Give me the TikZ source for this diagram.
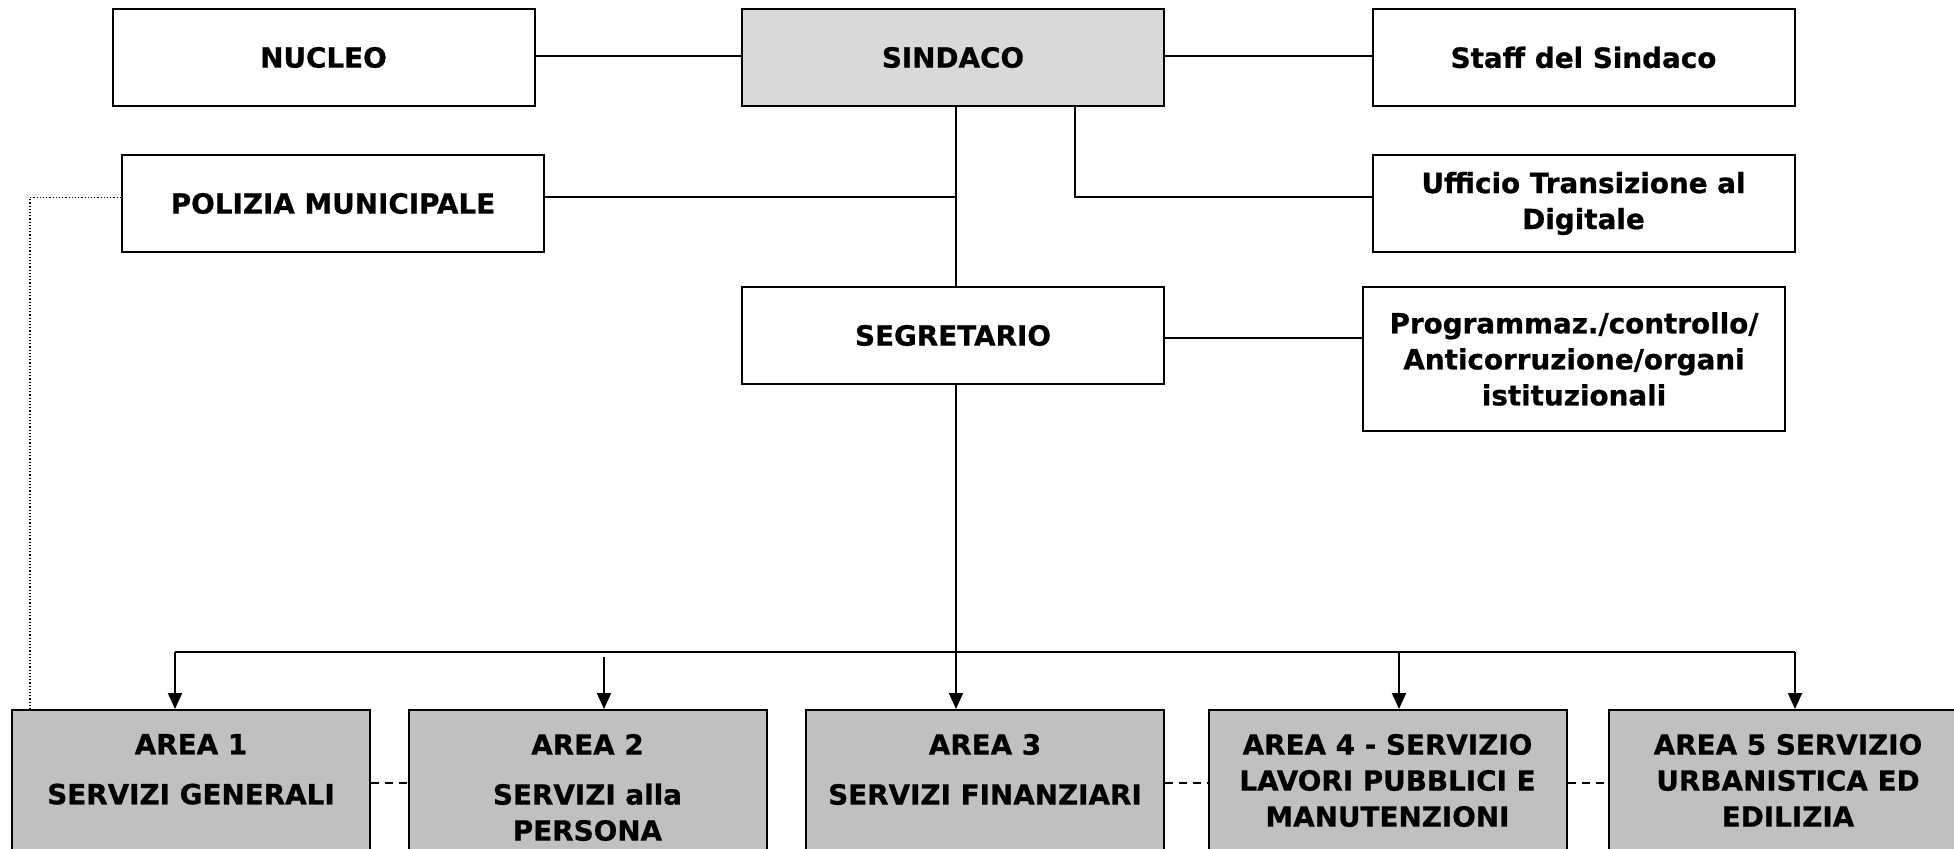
\documentclass[tikz,border=0pt]{standalone}
\usepackage{fontspec}
\setmainfont{DejaVu Sans}[BoldFeatures={FakeBold=0.8}]
\usetikzlibrary{arrows.meta}
\definecolor{sindacogray}{RGB}{217,217,217}
\definecolor{areagray}{RGB}{192,192,192}

\begin{document}
\begin{tikzpicture}[x=0.5pt,y=-0.5pt]
\tikzstyle{every node}+=[font=\bfseries\fontsize{13.9}{18}\selectfont]
\tikzstyle{box}=[draw=black, line width=1pt, fill=white, align=center, minimum width=211pt, minimum height=48.5pt]
\tikzstyle{areabox}=[draw=black, line width=1pt, fill=areagray, align=center, anchor=north, minimum width=179pt, inner ysep=12pt, text depth=60pt]
\tikzstyle{link}=[black, line width=1pt]
\tikzstyle{down}=[black, line width=1pt, -{Triangle[length=8pt,width=7pt]}]
\useasboundingbox (0,0) rectangle (1954,849);
% top row
\node [box] (nucleo) at (323.5,57.5) {NUCLEO};
\node [box, fill=sindacogray] (sindaco) at (953,57.5) {SINDACO};
\node [box] (staff) at (1583.5,57.5) {Staff del Sindaco};
\node [box] (polizia) at (333,203.5) {POLIZIA MUNICIPALE};
\node [box] (ufficio) at (1583.5,203.5) {Ufficio Transizione al\\Digitale};
\node [box] (segretario) at (953,335.5) {SEGRETARIO};
\node [box, minimum height=72pt] (programmaz) at (1574,359) {Programmaz./controllo/\\Anticorruzione/organi\\istituzionali};
% areas
\node [areabox] (area1) at (191,709) {AREA 1\\[7pt]SERVIZI GENERALI};
\node [areabox] (area2) at (587.5,709) {AREA 2\\[7pt]SERVIZI alla\\PERSONA};
\node [areabox] (area3) at (985,709) {AREA 3\\[7pt]SERVIZI FINANZIARI};
\node [areabox] (area4) at (1387.5,709) {AREA 4 - SERVIZIO\\LAVORI PUBBLICI E\\MANUTENZIONI};
\node [areabox] (area5) at (1788,709) {AREA 5 SERVIZIO\\URBANISTICA ED\\EDILIZIA};
% links
\coordinate (mid) at ([xshift=1.5pt]sindaco.south);
\draw [link] ([yshift=0.8pt]nucleo.east) -- ([yshift=0.8pt]sindaco.west);
\draw [link] ([yshift=0.8pt]sindaco.east) -- ([yshift=0.8pt]staff.west);
\draw [link] (mid) -- (mid |- segretario.north);
\draw [link] ([yshift=3pt]polizia.east) -- ([yshift=3pt]polizia.east -| mid);
\draw [link] ([xshift=61pt]sindaco.south) |- ([yshift=3pt]ufficio.west);
\draw [link] ([yshift=-1.5pt]segretario.east) -- ([yshift=-1.5pt]segretario.east -| programmaz.west);
\draw [black, densely dotted, line width=0.6pt] ([yshift=3pt]polizia.west) -| ([xshift=9.5pt]area1.north west);
% bus to the areas
\coordinate (b1) at (175,652);
\coordinate (b2) at (604,657);
\coordinate (b4) at (1399,652);
\coordinate (b5) at (1795,652);
\draw [black, line width=1.2pt] (b1) -- (b5);
\draw [down] (b1) -- (area1.north -| b1);
\draw [down] (b2) -- (area2.north -| b2);
\draw [down] (mid |- segretario.south) -- (area3.north -| mid);
\draw [down] (b4) -- (area4.north -| b4);
\draw [down] (b5) -- (area5.north -| b5);
\foreach \a/\b in {area1/area2, area3/area4, area4/area5}
  \draw [black, line width=0.8pt, dash pattern=on 4pt off 3pt] ([yshift=-37pt]\a.north east) -- ([yshift=-37pt]\b.north west);
\end{tikzpicture}
\end{document}
